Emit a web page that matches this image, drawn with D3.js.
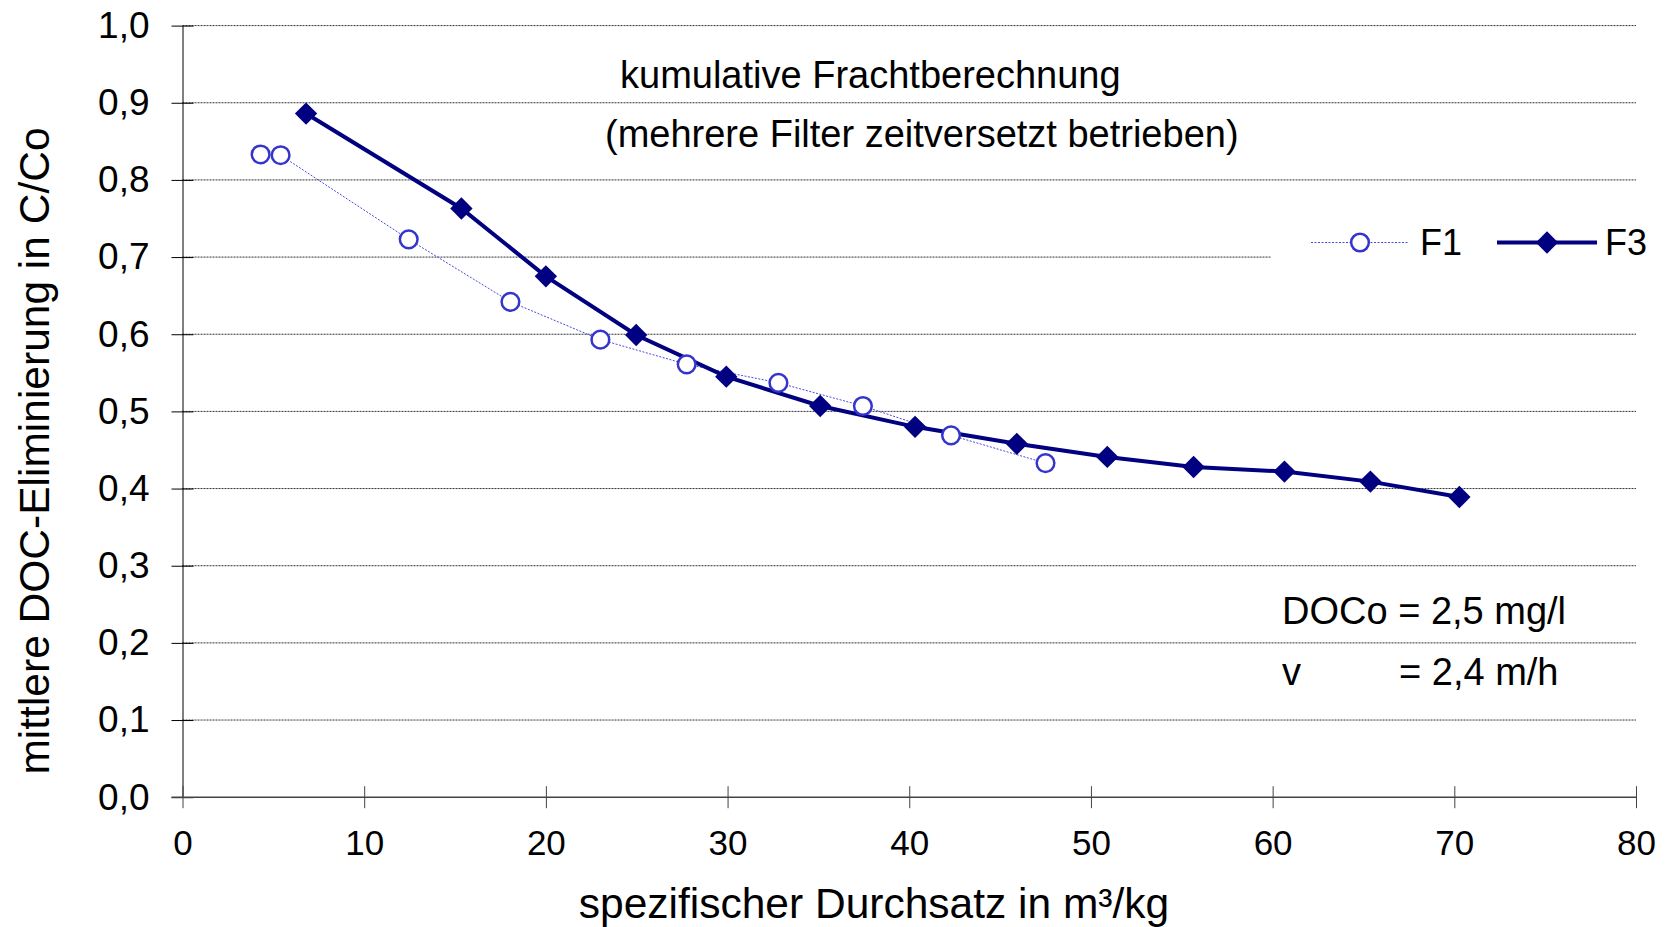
<!DOCTYPE html>
<html>
<head>
<meta charset="utf-8">
<script src="https://cdn.jsdelivr.net/npm/d3@7"></script>
<style>
  html, body { margin: 0; padding: 0; background: #fff; }
  svg { display: block; font-family: "Liberation Sans", Arial, sans-serif; }
</style>
</head>
<body>
<div id="chart"></div>
<script>
// Werte
const f1X = [4.3, 5.4, 12.45, 18.05, 23.0, 27.75, 32.8, 37.45, 42.3, 47.5];
const f1Y = [0.833, 0.832, 0.723, 0.642, 0.593, 0.561, 0.537, 0.507, 0.469, 0.433];
const f3X = [6.8, 15.35, 20.0, 24.97, 29.93, 35.1, 40.32, 45.92, 50.9, 55.65, 60.65, 65.38, 70.28];
const f3Y = [0.886, 0.763, 0.675, 0.599, 0.545, 0.507, 0.480, 0.458, 0.441, 0.428, 0.422, 0.409, 0.389];
const xTicks = [0, 10, 20, 30, 40, 50, 60, 70, 80];
const yTicks = [0, 0.1, 0.2, 0.3, 0.4, 0.5, 0.6, 0.7, 0.8, 0.9, 1.0];
const seriesNames = ['F1', 'F3'];

const width = 1671, height = 927;
const plot = { left: 182.5, right: 1636, top: 25.6, bottom: 797.2 };

const svg = d3.select('#chart').append('svg')
  .attr('width', width).attr('height', height);

const x = d3.scaleLinear().domain([0, 80]).range([plot.left, plot.right]);
const y = d3.scaleLinear().domain([0, 1]).range([plot.bottom, plot.top]);

const fmt = d => d3.format('.1f')(d).replace('.', ',');

// Gitterlinien (gepunktet)
svg.append('g').selectAll('line')
  .data(yTicks.filter(d => d > 0))
  .join('line')
    .attr('x1', plot.left).attr('x2', plot.right)
    .attr('y1', d => y(d)).attr('y2', d => y(d))
    .attr('stroke', '#333').attr('stroke-width', 1)
    .attr('stroke-dasharray', '2,1');

// Legendenhintergrund deckt Gitterlinie ab
svg.append('rect')
  .attr('x', 1271).attr('y', 212).attr('width', 400).attr('height', 66)
  .attr('fill', '#fff');

// Y-Achse
const yAxis = d3.axisLeft(y).tickValues(yTicks).tickFormat(fmt)
  .tickSizeInner(11).tickSizeOuter(0).tickPadding(22);
const gy = svg.append('g').attr('transform', `translate(${plot.left},0)`).call(yAxis);
gy.select('.domain').attr('stroke', '#000').attr('stroke-width', 1);
gy.selectAll('.tick line').attr('stroke', '#000').attr('x2', 11).attr('x1', -11);
gy.selectAll('.tick text').attr('font-size', 37).attr('fill', '#000')
  .attr('font-family', '"Liberation Sans", Arial, sans-serif');

// X-Achse
const xAxis = d3.axisBottom(x).tickValues(xTicks).tickFormat(d3.format('d'))
  .tickSizeInner(11).tickSizeOuter(0).tickPadding(22);
const gx = svg.append('g').attr('transform', `translate(0,${plot.bottom})`).call(xAxis);
gx.select('.domain').attr('stroke', '#444').attr('stroke-width', 1.5)
  .attr('d', `M${plot.left - 11},0H${plot.right}`);
gx.selectAll('.tick line').attr('stroke', '#444').attr('y1', -11).attr('y2', 11);
gx.selectAll('.tick text').attr('font-size', 35).attr('fill', '#000')
  .attr('font-family', '"Liberation Sans", Arial, sans-serif');

// Achsentitel
svg.append('text')
  .attr('x', 874).attr('y', 918)
  .attr('text-anchor', 'middle').attr('font-size', 42.5)
  .text('spezifischer Durchsatz in m³/kg');
svg.append('text')
  .attr('transform', 'translate(49,451) rotate(-90)')
  .attr('text-anchor', 'middle').attr('font-size', 42.5)
  .text('mittlere DOC-Eliminierung in C/Co');

// Anmerkungen
svg.append('text').attr('x', 620).attr('y', 87.5).attr('font-size', 38)
  .text('kumulative Frachtberechnung');
svg.append('text').attr('x', 605).attr('y', 147).attr('font-size', 38)
  .text('(mehrere Filter zeitversetzt betrieben)');
svg.append('text').attr('x', 1282).attr('y', 624).attr('font-size', 38)
  .text('DOCo = 2,5 mg/l');
svg.append('text').attr('x', 1282).attr('y', 685).attr('font-size', 38).text('v');
svg.append('text').attr('x', 1399).attr('y', 685).attr('font-size', 38).text('= 2,4 m/h');

// Daten
const f1 = f1X.map((v, i) => [v, f1Y[i]]);
const f3 = f3X.map((v, i) => [v, f3Y[i]]);
const line = d3.line().x(d => x(d[0])).y(d => y(d[1]));

const f1Color = '#3535cc', f3Color = '#000080';
const circleSym = d3.symbol(d3.symbolCircle, 245);
const diamondSym = d3.symbol(d3.symbolSquare, 250);

svg.append('path').datum(f1)
  .attr('d', line).attr('fill', 'none')
  .attr('stroke', '#4a4ae0').attr('stroke-width', 1)
  .attr('stroke-dasharray', '2,1.5');

svg.append('path').datum(f3)
  .attr('d', line).attr('fill', 'none')
  .attr('stroke', f3Color).attr('stroke-width', 4);

svg.append('g').selectAll('path')
  .data(f1).join('path')
    .attr('transform', d => `translate(${x(d[0])},${y(d[1])})`)
    .attr('d', circleSym)
    .attr('fill', '#fff').attr('stroke', f1Color).attr('stroke-width', 2.5);

svg.append('g').selectAll('path')
  .data(f3).join('path')
    .attr('transform', d => `translate(${x(d[0])},${y(d[1])}) rotate(45)`)
    .attr('d', diamondSym)
    .attr('fill', f3Color);

// Legende
const legY = 242.5;
const lg = svg.append('g');
lg.append('line').attr('x1', 1311).attr('x2', 1408).attr('y1', legY).attr('y2', legY)
  .attr('stroke', '#4a4ae0').attr('stroke-width', 1).attr('stroke-dasharray', '2,1.5');
lg.append('path').attr('transform', `translate(1360,${legY})`).attr('d', circleSym)
  .attr('fill', '#fff').attr('stroke', f1Color).attr('stroke-width', 2.5);
lg.append('text').attr('x', 1420).attr('y', legY + 12).attr('font-size', 36).text(seriesNames[0]);
lg.append('line').attr('x1', 1497).attr('x2', 1597).attr('y1', legY).attr('y2', legY)
  .attr('stroke', f3Color).attr('stroke-width', 4);
lg.append('path').attr('transform', `translate(1547,${legY}) rotate(45)`).attr('d', diamondSym)
  .attr('fill', f3Color);
lg.append('text').attr('x', 1605).attr('y', legY + 12).attr('font-size', 36).text(seriesNames[1]);
</script>
</body>
</html>
